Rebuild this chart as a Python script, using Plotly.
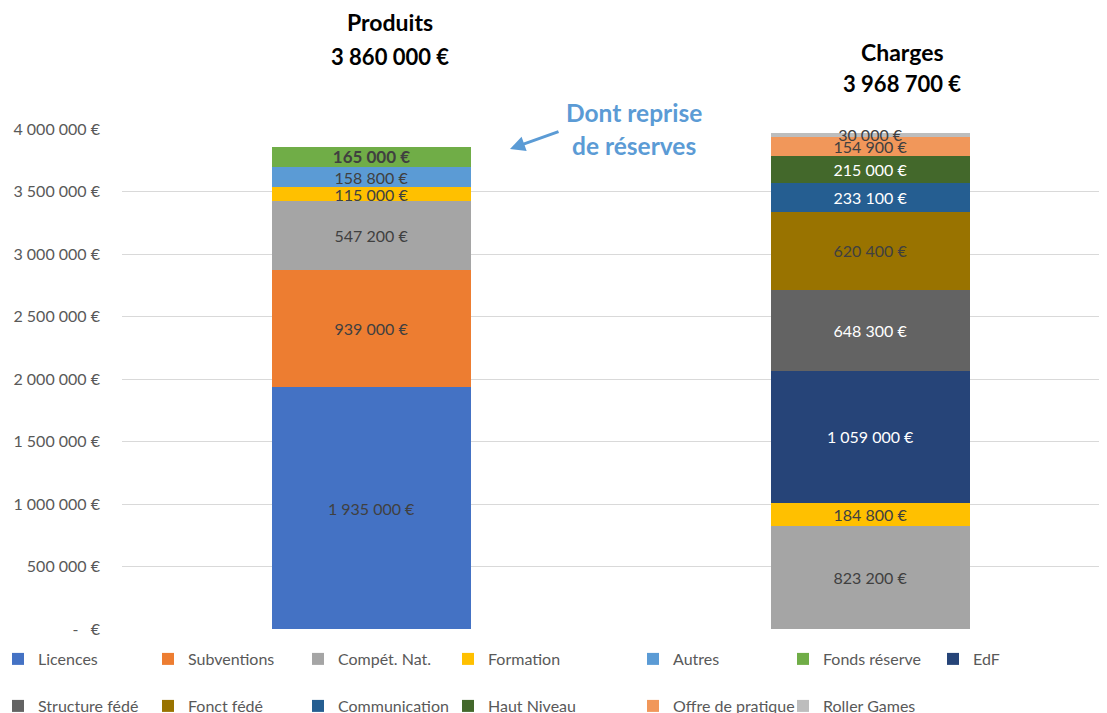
import plotly.graph_objects as go

categories = ["Produits", "Charges"]
series_names = ["Licences", "Subventions", "Compét. Nat.", "Formation", "Autres",
                "Fonds réserve", "EdF", "Structure fédé", "Fonct fédé", "Communication",
                "Haut Niveau", "Offre de pratique", "Roller Games"]
produits = [1935000, 939000, 547200, 115000, 158800, 165000, 0, 0, 0, 0, 0, 0, 0]
charges = [0, 0, 823200, 184800, 0, 0, 1059000, 648300, 620400, 233100, 215000, 154900, 30000]
colors = ["#4472C4", "#ED7D31", "#A5A5A5", "#FFC000", "#5B9BD5", "#70AD47", "#264478",
          "#636363", "#997300", "#255E91", "#43682B", "#F1975A", "#BDBDBD"]
label_colors = ["#404040", "#404040", "#404040", "#404040", "#404040", "#404040", "white",
                "white", "#404040", "white", "white", "#404040", "#404040"]
y_ticks = [0, 500000, 1000000, 1500000, 2000000, 2500000, 3000000, 3500000, 4000000]

FONT = "Lato"
NB = "\u00a0"


def fmt(v):
    return f"{v:,.0f}".replace(",", NB) + NB + "€"


# page body has an 8px default margin: work in screen pixels and subtract it
OFF = 8
W, H = 1107 - OFF, 713 - OFF
L = 122 - OFF
T = 129 - OFF
B = H - (629 - OFF)
R = 0
PW, PH = W - L - R, H - T - B


def px_x(p):
    return (p - OFF - L) / PW


def px_y(p):
    return (H - B - (p - OFF)) / PH


legend_of = ["legend"] * 4 + ["legend2"] * 3 + ["legend3"] * 4 + ["legend4"] * 2

fig = go.Figure()
for i, name in enumerate(series_names):
    vals = [produits[i], charges[i]]
    texts = []
    for v in vals:
        if v == 0:
            texts.append("")
        elif name == "Fonds réserve":
            texts.append("<b>" + fmt(v) + "</b>")
        else:
            texts.append(fmt(v))
    fig.add_trace(go.Bar(
        name=name, x=categories, y=vals, text=texts,
        textposition="inside", insidetextanchor="middle", constraintext="none",
        textangle=0,
        insidetextfont=dict(family=FONT, size=17 if name == "Fonds réserve" else 16,
                            color=label_colors[i]),
        marker=dict(color=colors[i], line=dict(width=0)),
        legend=legend_of[i], hoverinfo="skip",
    ))

tick_text = [("-" + NB * 3 + "€") if v == 0 else fmt(v) for v in y_ticks]

legend_common = dict(orientation="h", xref="paper", yref="paper", xanchor="left",
                     yanchor="middle", font=dict(family=FONT, size=16, color="#595959"),
                     bgcolor="rgba(0,0,0,0)", traceorder="normal", entrywidth=105,
                     itemclick=False, itemdoubleclick=False)

fig.update_layout(
    width=W, height=H, barmode="stack", bargap=0.6,
    margin=dict(l=L, r=R, t=T, b=B, autoexpand=False),
    plot_bgcolor="white", paper_bgcolor="white",
    font=dict(family=FONT, color="#595959"),
    showlegend=True,
    legend=dict(legend_common, x=px_x(-2), y=px_y(659)),
    legend2=dict(legend_common, x=px_x(633), y=px_y(659)),
    legend3=dict(legend_common, x=px_x(-2), y=px_y(706)),
    legend4=dict(legend_common, x=px_x(633), y=px_y(706)),
    xaxis=dict(range=[-0.5, -0.5 + PW / 499.0], showticklabels=False, showgrid=False,
               zeroline=False, showline=False, ticks=""),
    yaxis=dict(range=[0, 4000000], tickvals=y_ticks, ticktext=tick_text,
               showgrid=True, gridcolor="#D9D9D9", gridwidth=1, zeroline=False,
               showline=False, ticks="", ticklabelstandoff=21,
               tickfont=dict(family=FONT, size=16, color="#595959")),
)

totals = [sum(produits), sum(charges)]
title_x = [px_x(390), px_x(902)]
title_y = [(22, 56), (52, 84)]
for k, cat in enumerate(categories):
    fig.add_annotation(text="<b>" + cat + "</b>", x=title_x[k], y=px_y(title_y[k][0]),
                       xref="paper", yref="paper", showarrow=False,
                       font=dict(family=FONT, size=23, color="black"),
                       xanchor="center", yanchor="middle")
    fig.add_annotation(text="<b>" + fmt(totals[k]) + "</b>", x=title_x[k],
                       y=px_y(title_y[k][1]), xref="paper", yref="paper", showarrow=False,
                       font=dict(family=FONT, size=22, color="black"),
                       xanchor="center", yanchor="middle")

for line, py in [("Dont reprise", 113), ("de réserves", 145)]:
    fig.add_annotation(text="<b>" + line + "</b>", x=px_x(634), y=px_y(py),
                       xref="paper", yref="paper", showarrow=False,
                       font=dict(family=FONT, size=24.5, color="#5B9BD5"),
                       xanchor="center", yanchor="middle")

fig.add_annotation(text="", x=px_x(510), y=px_y(149), xref="paper", yref="paper",
                   showarrow=True, ax=50, ay=-18, arrowhead=2, arrowsize=1,
                   arrowwidth=3, arrowcolor="#5B9BD5", standoff=0, startstandoff=0)

fig.write_html("out.html")
